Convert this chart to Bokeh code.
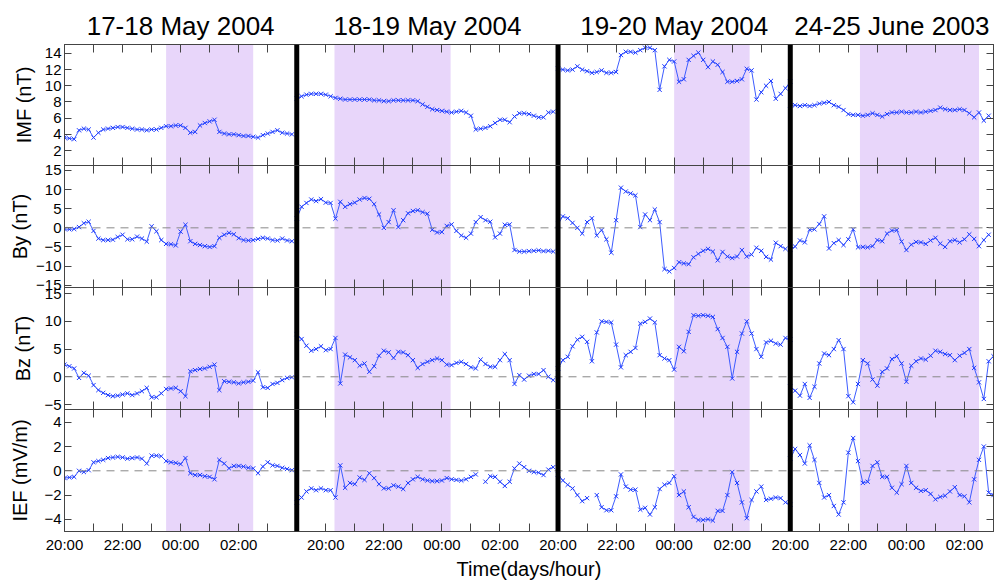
import numpy as np
from bokeh.plotting import figure
from bokeh.layouts import column
from bokeh.models import Range1d, FixedTicker, LinearAxis, Span, BoxAnnotation, ColumnDataSource
from bokeh.core.properties import value
from bokeh.embed import file_html
from bokeh.resources import INLINE

nan = float("nan")
FONT = "Liberation Sans"

# ---------------- data ----------------
SEG_TITLES = ["17-18 May 2004", "18-19 May 2004", "19-20 May 2004", "24-25 June 2003"]
SEG_START_H = [0, 8, 17, 25]       # hours after 20:00 of first event (continuous axis)
SEG_END_H = [8, 17, 25, 32]
SAMPLE_MIN = 10                    # sampling step of the series (minutes)
SHADE_H = [(3.5, 6.5), (9.3, 13.3), (21.0, 23.6), (27.4, 31.5)]
HOUR_TICKS = list(range(0, 33))
HOUR_LABELS = {0: "20:00", 2: "22:00", 4: "00:00", 6: "02:00",
               9: "20:00", 11: "22:00", 13: "00:00", 15: "02:00",
               17: "20:00", 19: "22:00", 21: "00:00", 23: "02:00",
               25: "20:00", 27: "22:00", 29: "00:00", 31: "02:00"}

IMF_S1 = [3.6, 3.5, 3.4, 4.5, 4.7, 4.6, 3.6, 4.2, 4.6, 4.7, 4.8, 4.9, 4.9, 4.8, 4.7, 4.6, 4.6, 4.5, 4.6, 4.6,
          4.8, 5.0, 5.0, 5.1, 5.1, 4.8, 4.2, 4.3, 5.1, 5.4, 5.6, 5.8, 4.3, 4.1, 4.0, 4.0, 3.9, 3.8, 3.8, 3.7,
          3.6, 3.9, 4.1, 4.3, 4.5, 4.2, 4.1, 4.0]
IMF_S2 = [8.4, 8.7, 8.9, 9.0, 9.0, 9.0, 8.9, 8.7, 8.5, 8.4, 8.3, 8.3, 8.3, 8.3, 8.3, 8.3, 8.2, 8.2, 8.1, 8.1,
          8.2, 8.2, 8.2, 8.2, 8.2, 8.1, 7.7, 7.4, 7.1, 7.0, 6.9, 6.8, 6.7, 6.8, 6.9, 6.7, 6.3, 4.6, 4.7, 4.8,
          5.0, 5.4, 5.8, 5.8, 5.5, 6.2, 6.6, 6.6, 6.5, 6.3, 6.1, 6.1, 6.7, 6.8]
IMF_S3 = [12.1, 12.0, 11.9, 12.0, 12.4, 12.0, 11.8, 11.6, 11.7, 11.9, 11.6, 11.6, 11.7, 13.8, 14.2, 14.2, 14.1,
          14.4, 14.7, 14.7, 14.4, 9.5, 12.4, 13.2, 13.0, 10.5, 10.8, 13.2, 13.7, 14.1, 13.2, 12.3, 13.0, 12.6,
          11.7, 10.5, 10.5, 10.6, 10.8, 12.1, 11.9, 8.3, 9.2, 10.0, 10.6, 8.4, 9.0, 9.7, 10.5]
IMF_S4 = [7.6, 7.6, 7.5, 7.6, 7.5, 7.6, 7.8, 7.9, 8.0, 7.6, 7.4, 7.0, 6.5, 6.4, 6.4, 6.3, 6.4, 6.6, 6.4, 6.2,
          6.5, 6.7, 6.7, 6.8, 6.7, 6.7, 6.8, 6.7, 6.8, 6.9, 7.0, 7.3, 7.1, 7.0, 7.0, 7.1, 7.0, 6.6, 6.1, 6.7,
          5.7, 6.3]

BY_S1 = [-0.3, -0.4, -0.3, 0.2, 1.2, 1.6, -0.8, -2.8, -3.2, -3.2, -3.1, -2.4, -1.8, -3.0, -3.0, -2.3, -2.8,
         -3.6, 0.4, -0.9, -3.2, -4.2, -4.3, -4.6, -1.0, 0.8, -3.5, -4.2, -4.5, -4.8, -5.0, -4.8, -2.6, -1.8,
         -1.3, -1.7, -2.7, -3.2, -3.3, -3.2, -2.9, -2.6, -2.8, -3.2, -3.3, -2.8, -3.3, -3.5]
BY_S2 = [2.5, 5.5, 6.5, 7.4, 7.0, 7.5, 6.6, 6.5, 2.4, 6.8, 5.5, 6.2, 6.6, 7.4, 7.8, 7.6, 6.2, 3.5, 0.0, 1.5,
         4.6, 0.2, 2.0, 3.8, 4.4, 4.6, 4.1, 3.7, -0.5, -1.2, -1.1, 0.5, 0.9, -0.8, -2.0, -2.6, -1.5, 1.5, 2.8,
         2.0, 1.6, -2.5, -1.5, 0.8, 0.9, -5.8, -6.2, -6.2, -6.1, -6.0, -5.9, -6.1, -6.0, -6.2]
BY_S3 = [1.0, 3.0, 2.5, 1.3, 0.0, -1.5, 1.5, 2.5, -2.0, -0.6, -3.0, -6.5, 2.0, 10.5, 9.5, 9.0, 8.5, 0.2, 3.5,
         2.0, 4.8, 1.5, -10.8, -11.4, -10.5, -9.0, -9.3, -9.5, -7.7, -6.8, -6.0, -5.5, -6.2, -8.5, -6.3, -7.5,
         -7.9, -7.5, -5.8, -7.5, -7.0, -5.2, -6.0, -7.6, -8.3, -3.9, -4.8, -5.5]
BY_S4 = [-5.6, -4.9, -3.3, -3.8, -0.5, -0.4, 1.0, 3.0, -5.4, -4.0, -3.2, -4.5, -3.0, -0.4, -5.1, -5.0, -5.1,
         -4.8, -3.2, -3.5, -1.5, -0.7, -0.6, -3.6, -5.8, -4.4, -3.7, -3.8, -4.2, -3.3, -2.6, -4.1, -5.0, -3.5,
         -3.2, -3.8, -3.0, -1.7, -2.9, -4.8, -3.2, -1.8]

BZ_S1 = [2.2, 1.9, 1.5, -0.2, 0.7, 0.2, -1.5, -2.4, -2.9, -3.3, -3.5, -3.4, -3.2, -3.0, -3.3, -3.0, -2.6, -2.0,
         -3.7, -3.7, -3.0, -2.2, -2.1, -2.0, -2.6, -3.5, 1.0, 1.2, 1.4, 1.5, 1.8, 2.2, -2.4, -0.8, -0.9, -1.0,
         -1.2, -1.0, -0.9, -0.7, 0.8, -1.9, -2.0, -1.3, -1.1, -0.6, -0.2, -0.1]
BZ_S2 = [7.7, 6.8, 5.6, 4.7, 5.0, 5.5, 4.8, 5.0, 7.0, -1.2, 4.0, 3.5, 3.0, 2.0, 2.4, 0.9, 1.9, 3.8, 4.7, 4.4,
         3.4, 4.5, 4.4, 3.9, 3.0, 1.6, 2.3, 2.7, 3.0, 3.3, 3.0, 2.2, 2.1, 2.5, 2.7, 2.3, 1.7, 1.5, 3.1, 2.3,
         1.8, 1.8, 3.0, 4.1, 3.0, -1.3, 0.3, -0.5, 0.2, 0.5, 0.5, 1.2, 0.0, -0.6]
BZ_S3 = [1.5, 3.0, 3.6, 5.5, 6.7, 7.2, 6.3, 2.8, 8.0, 10.0, 9.9, 9.8, 5.8, 1.7, 3.9, 4.5, 5.2, 9.6, 9.9, 10.5,
         9.8, 3.9, 3.3, 3.0, 1.3, 5.4, 4.6, 8.1, 11.1, 11.0, 11.1, 11.0, 10.8, 8.6, 7.0, 5.4, -0.3, 4.5, 7.8,
         10.0, 7.8, 5.0, 3.6, 6.2, 6.5, 6.0, 5.8, 7.0, 6.7]
BZ_S4 = [-1.8, -2.5, -3.4, -1.3, -3.8, -1.8, 2.4, 4.2, 3.9, 5.0, 6.6, 5.0, -3.5, -4.6, -1.3, 3.0, 2.4, -0.5,
         -1.6, 0.9, 1.5, 3.2, 3.7, 2.4, -0.9, 2.0, 2.8, 3.3, 3.1, 3.8, 4.7, 4.5, 4.1, 3.9, 3.0, 3.8, 4.3, 5.0,
         1.6, -1.0, -4.0, 2.8, 3.7]

IEF_S1 = [-0.6, -0.55, -0.5, 0.0, -0.1, 0.05, 0.7, 0.8, 0.9, 1.05, 1.1, 1.15, 1.1, 1.0, 1.05, 1.1, 1.0, 0.6,
          1.25, 1.25, 1.2, 0.8, 0.7, 0.65, 0.55, 1.05, -0.2, -0.35, -0.35, -0.45, -0.5, -0.7, 0.9, 0.6, 0.2,
          0.4, 0.4, 0.35, 0.25, 0.2, -0.2, 0.35, 0.7, 0.45, 0.4, 0.25, 0.15, 0.05]
IEF_S2 = [-2.6, -2.2, -1.7, -1.45, -1.6, -1.45, -1.6, -1.6, -2.2, 0.45, -1.4, -1.0, -1.1, -0.55, -0.75, -0.2,
          -0.6, -1.1, -1.45, -1.45, -1.2, -1.3, -1.5, -1.0, -0.7, -0.5, -0.7, -0.8, -0.85, -0.85, -0.8, -0.6,
          -0.7, -0.75, -0.8, -0.7, -0.5, -0.3, nan, -0.9, -0.45, -0.5, -0.9, -1.25, -0.9, 0.2, 0.6, 0.3, 0.0,
          -0.1, -0.15, -0.35, 0.1, 0.3]
IEF_S3 = [-0.3, -0.8, -1.15, -1.45, -2.0, -2.5, -2.25, nan, -2.0, -3.0, -3.25, -3.25, -2.1, -0.3, -1.3, -1.55,
          -1.55, -3.2, -3.05, -3.6, -3.0, -1.5, -1.15, -1.0, -0.45, -2.0, -1.7, -3.0, -3.8, -4.05, -4.05, -4.0,
          -4.1, -3.3, -3.3, -2.0, -0.1, -1.0, -2.6, -3.9, -2.4, -1.7, -1.3, -2.4, -2.3, -2.2, -2.25, -2.6, -2.8]
IEF_S4 = [1.0, 1.8, 1.3, 0.6, 2.1, 0.9, -1.0, -2.2, -2.0, -2.9, -3.6, -2.6, 1.5, 2.7, 0.8, -1.0, -0.9, 0.4, 0.7,
          -0.5, -0.5, -1.4, -1.8, -1.1, 0.4, -1.0, -1.4, -1.65, -1.6, -1.9, -2.35, -2.15, -2.05, -1.7, -1.35,
          -2.0, -2.1, -2.6, -0.7, 0.9, 2.0, -1.8, -2.0]

IMF_TICKS = [2, 4, 6, 8, 10, 12, 14]
BY_TICKS = [-15, -10, -5, 0, 5, 10, 15]
BZ_TICKS = [-5, 0, 5, 10, 15]
IEF_TICKS = [-4, -2, 0, 2, 4]

# ---------------- style ----------------
LINE_COLOR = "#3d5cff"
MARK_COLOR = "#1f3cff"
SHADE_COLOR = "#E8D6FA"
FRAME_COLOR = "#444444"
FRAME_W = 929
LEFT_B = 64
RIGHT_B = 8
PAD = 10          # transparent border above/below inner panels; neighbours overlap by it
HEADER_H = 44
TITLE_MID = 19    # title centre, measured up from the bottom of the header strip (px)

x_range = Range1d(0, 32)
TRANSPARENT = {"background-color": "transparent"}


def series(segs):
    xs, ys = [], []
    for k, seg in enumerate(segs):
        xs += [SEG_START_H[k] + i * SAMPLE_MIN / 60.0 for i in range(len(seg))] + [nan]
        ys += list(seg) + [nan]
    return np.array(xs, dtype=float), np.array(ys, dtype=float)


def hide_labels(ax):
    ax.major_label_text_font_size = "0px"
    ax.major_label_text_color = None
    ax.major_label_standoff = 0


def make_header():
    h = figure(frame_width=FRAME_W, frame_height=HEADER_H, x_range=x_range, y_range=Range1d(0, HEADER_H),
               x_axis_location=None, y_axis_location=None, output_backend="svg",
               toolbar_location=None, min_border_left=LEFT_B, min_border_right=RIGHT_B,
               min_border_top=0, min_border_bottom=0, outline_line_color=None,
               background_fill_color=None, border_fill_color=None)
    h.grid.visible = False
    src = ColumnDataSource(dict(x=[(a + b) / 2.0 for a, b in zip(SEG_START_H, SEG_END_H)],
                                y=[TITLE_MID] * len(SEG_TITLES), t=SEG_TITLES))
    h.text(x="x", y="y", text="t", source=src, text_align="center", text_baseline="middle",
           text_font=value(FONT), text_font_size=value("26px"), text_color="black")
    return h


def make_panel(ylabel, yr, yticks, segs, frame_h, label_standoff, bottom=False, zero=True, first=False):
    p = figure(frame_width=FRAME_W, frame_height=frame_h, x_range=x_range, y_range=Range1d(*yr),
               x_axis_location=None, y_axis_location=None, output_backend="svg",
               toolbar_location=None, min_border_left=LEFT_B, min_border_right=RIGHT_B,
               min_border_top=0 if first else PAD, min_border_bottom=48 if bottom else PAD,
               outline_line_color=FRAME_COLOR, background_fill_color=None, border_fill_color=None,
               styles=TRANSPARENT)
    p.grid.visible = False
    if not first:
        p.margin = (-2 * PAD, 0, 0, 0)

    left = LinearAxis(ticker=FixedTicker(ticks=yticks), axis_label=ylabel)
    left.major_tick_in = 7
    left.major_tick_out = 0
    left.minor_tick_line_color = None
    left.major_label_standoff = 3
    left.major_label_text_font = FONT
    left.major_label_text_font_size = "15px"
    left.major_label_text_color = "black"
    left.axis_label_text_font = FONT
    left.axis_label_text_font_size = "20px"
    left.axis_label_text_font_style = "normal"
    left.axis_label_text_color = "black"
    left.axis_label_standoff = label_standoff
    left.axis_line_color = FRAME_COLOR
    left.major_tick_line_color = FRAME_COLOR
    p.add_layout(left, "left")

    right = LinearAxis(ticker=FixedTicker(ticks=yticks))
    right.major_tick_in = 7
    right.major_tick_out = 0
    right.minor_tick_line_color = None
    hide_labels(right)
    right.axis_line_color = FRAME_COLOR
    right.major_tick_line_color = FRAME_COLOR
    p.add_layout(right, "right")

    for loc in ("above", "below"):
        ax = LinearAxis(ticker=FixedTicker(ticks=HOUR_TICKS))
        ax.major_tick_in = 8
        ax.major_tick_out = 0
        ax.minor_tick_line_color = None
        ax.axis_line_color = FRAME_COLOR
        ax.major_tick_line_color = FRAME_COLOR
        if loc == "below" and bottom:
            ax.major_label_overrides = {t: HOUR_LABELS.get(t, "") for t in HOUR_TICKS}
            ax.major_label_text_font = FONT
            ax.major_label_text_font_size = "15px"
            ax.major_label_text_color = "black"
            ax.major_label_standoff = 4
            ax.axis_label = "Time(days/hour)"
            ax.axis_label_text_font = FONT
            ax.axis_label_text_font_size = "20px"
            ax.axis_label_text_font_style = "normal"
            ax.axis_label_text_color = "black"
            ax.axis_label_standoff = 2
        else:
            hide_labels(ax)
        p.add_layout(ax, loc)

    for a, b in SHADE_H:
        p.add_layout(BoxAnnotation(left=a, right=b, fill_color=SHADE_COLOR, fill_alpha=1.0,
                                   line_alpha=0, level="underlay"))
    if zero:
        p.add_layout(Span(location=0, dimension="width", line_color="#888888",
                          line_dash="8 6", line_width=1))

    xs, ys = series(segs)
    p.line(xs, ys, line_color=LINE_COLOR, line_width=1)
    p.scatter(xs, ys, marker="x", size=6, line_color=MARK_COLOR, line_width=1)

    for b in SEG_END_H[:-1]:
        p.add_layout(Span(location=b, dimension="height", line_color="black", line_width=5))
    return p


header = make_header()
p1 = make_panel("IMF (nT)", (0.15, 15.1), IMF_TICKS, [IMF_S1, IMF_S2, IMF_S3, IMF_S4], 121, 7,
                zero=False, first=True)
p2 = make_panel("By (nT)", (-15.6, 16.3), BY_TICKS, [BY_S1, BY_S2, BY_S3, BY_S4], 122, 2)
p3 = make_panel("Bz (nT)", (-5.9, 16.1), BZ_TICKS, [BZ_S1, BZ_S2, BZ_S3, BZ_S4], 122, 7)
p4 = make_panel("IEF (mV/m)", (-5.0, 5.05), IEF_TICKS, [IEF_S1, IEF_S2, IEF_S3, IEF_S4], 122, 10,
                bottom=True)

layout = column(header, p1, p2, p3, p4, spacing=0)
open("out.html", "w").write(file_html(layout, INLINE))
